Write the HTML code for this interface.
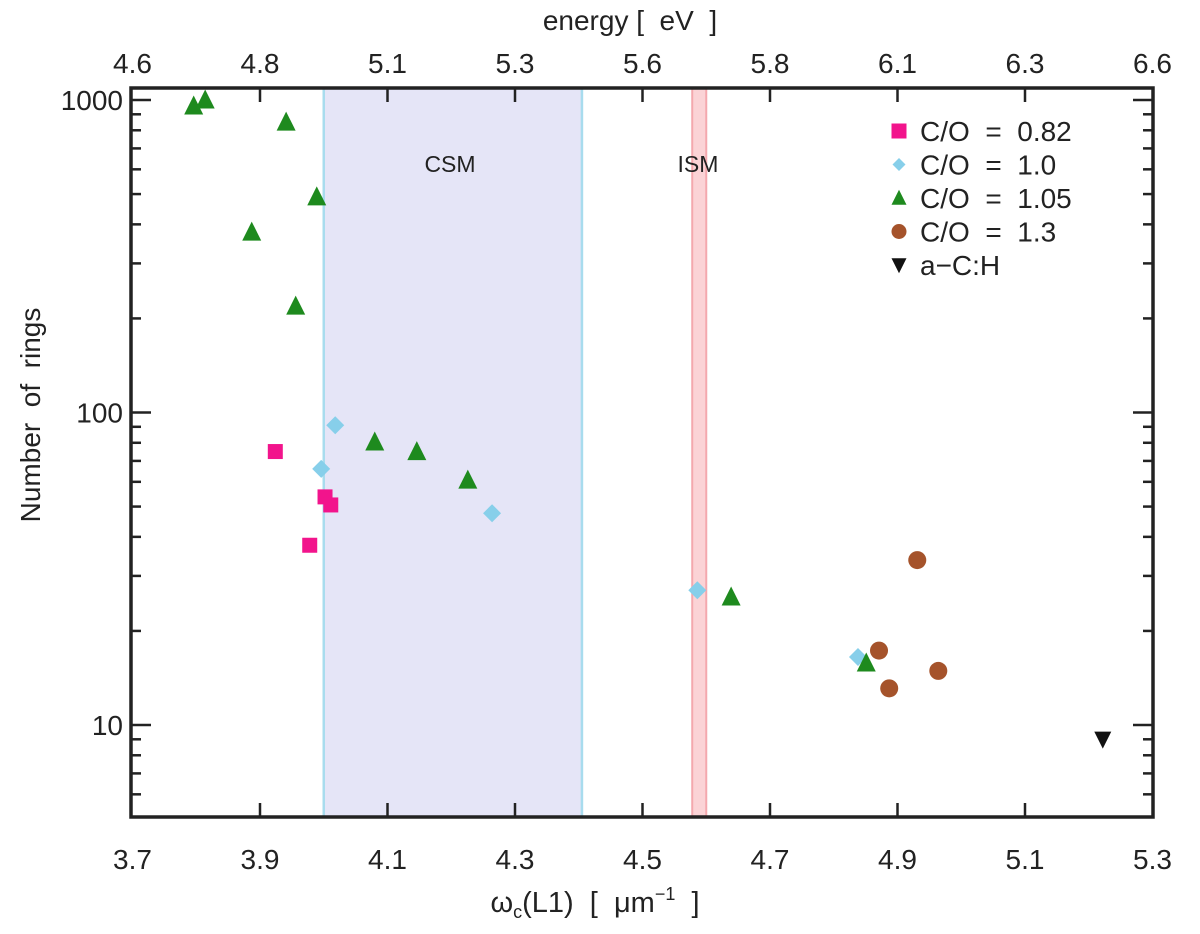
<!DOCTYPE html>
<html><head><meta charset="utf-8"><style>
html,body{margin:0;padding:0;background:#fff;}
svg text{font-family:"Liberation Sans","DejaVu Sans",sans-serif;fill:#222;white-space:pre;}
</style></head><body>
<svg id="chart" width="1200" height="929" viewBox="0 0 1200 929" xmlns="http://www.w3.org/2000/svg">
<g id="bands"></g>
<g id="axes"></g>
<g id="marks"></g>
<g id="legend"></g>
</svg>
<script>
const xTicks = [3.7, 3.9, 4.1, 4.3, 4.5, 4.7, 4.9, 5.1, 5.3];
const xTickLabels = ["3.7","3.9","4.1","4.3","4.5","4.7","4.9","5.1","5.3"];
const topTickLabels = ["4.6","4.8","5.1","5.3","5.6","5.8","6.1","6.3","6.6"];
const yTicks = [10, 100, 1000];
const yTickLabels = ["10","100","1000"];
const csmBand = [4.0, 4.405];
const ismBand = [4.578, 4.6];
const co082X = [3.924, 4.002, 4.011, 3.978];
const co082Y = [75, 53.7, 50.6, 37.6];
const co10X = [4.018, 3.996, 4.264, 4.586, 4.838];
const co10Y = [91, 66, 47.6, 27, 16.5];
const co105X = [3.796, 3.814, 3.941, 3.989, 3.887, 3.956, 4.080, 4.146, 4.226, 4.639, 4.851];
const co105Y = [957, 1000, 850, 490, 378, 219, 80.5, 75, 60.8, 25.7, 15.8];
const co13X = [4.871, 4.887, 4.931, 4.964];
const co13Y = [17.3, 13.1, 33.7, 14.9];
const achX = [5.222];
const achY = [9.0];

const L=131, R=1153, T=88, B=817;
const NS="http://www.w3.org/2000/svg";
function X(v){return 132.5+(v-3.7)*637.5;}
function Y(v){return 100+(3-Math.log10(v))*312.5;}
function mk(tag,attrs,parent){const e=document.createElementNS(NS,tag);for(const k in attrs)e.setAttribute(k,attrs[k]);parent.appendChild(e);return e;}
const bands=document.getElementById('bands'),axes=document.getElementById('axes'),marks=document.getElementById('marks'),leg=document.getElementById('legend');

let b=mk('rect',{x:X(csmBand[0]),y:T,width:X(csmBand[1])-X(csmBand[0]),height:B-T,fill:'#e5e5f7'},bands);


[csmBand[0],csmBand[1]].forEach(v=>{const l=mk('line',{x1:X(v),x2:X(v),y1:T,y2:B,stroke:'#a8dcee','stroke-width':2.5},bands);

});
b=mk('rect',{x:X(ismBand[0]),y:T,width:X(ismBand[1])-X(ismBand[0]),height:B-T,fill:'#fbd3d6',stroke:'#f4a8ae','stroke-width':2},bands);


let t=mk('text',{x:450,y:172,'font-size':23,'text-anchor':'middle'},bands);t.textContent='CSM';


t=mk('text',{x:698,y:172,'font-size':23,'text-anchor':'middle'},bands);t.textContent='ISM';



let f=mk('rect',{x:L,y:T,width:R-L,height:B-T,fill:'none',stroke:'#222','stroke-width':3.5},axes);


xTicks.forEach((v,i)=>{
  const x=X(v);
  if(i>0&&i<xTicks.length-1){mk('line',{x1:x,x2:x,y1:B,y2:B-14,stroke:'#222','stroke-width':2.5},axes);
  mk('line',{x1:x,x2:x,y1:T,y2:T+14,stroke:'#222','stroke-width':2.5},axes);}
  let tl=mk('text',{x:x,y:B+52,'font-size':28,'text-anchor':'middle'},axes);tl.textContent=xTickLabels[i];
  
  
  tl=mk('text',{x:x,y:T-15,'font-size':28,'text-anchor':'middle'},axes);tl.textContent=topTickLabels[i];
  
  
});
for(let d=0;d<4;d++){for(let m=1;m<10;m++){
  const v=m*Math.pow(10,d);const y=Y(v);if(y<T+2||y>B-2)continue;
  const len=(m===1)?20:10;
  mk('line',{x1:L,x2:L+len,y1:y,y2:y,stroke:'#222','stroke-width':2.5},axes);
  mk('line',{x1:R,x2:R-len,y1:y,y2:y,stroke:'#222','stroke-width':2.5},axes);
}}
yTicks.forEach((v,i)=>{let tl=mk('text',{x:L-8,y:Y(v)+10,'font-size':28,'text-anchor':'end'},axes);tl.textContent=yTickLabels[i];

});
t=mk('text',{x:595,y:912,'font-size':29,'text-anchor':'middle'},axes);
t.innerHTML='ω<tspan font-size="18" dy="6">c</tspan><tspan dy="-6">(L1)  [  μm</tspan><tspan font-size="18" dy="-12">−1</tspan><tspan dy="12">  ]</tspan>';


t=mk('text',{x:630,y:30,'font-size':28,'text-anchor':'middle'},axes);t.textContent='energy [  eV  ]';


t=mk('text',{x:0,y:0,'font-size':28,'text-anchor':'middle',transform:'translate(40,415) rotate(-90)'},axes);t.textContent='Number  of  rings';



function marker(type,x,y,s,parent){
  if(type==='sq')return mk('rect',{x:x-s/2,y:y-s/2,width:s,height:s,fill:'#f2148c'},parent);
  if(type==='di')return mk('polygon',{points:`${x},${y-s/2} ${x+s/2},${y} ${x},${y+s/2} ${x-s/2},${y}`,fill:'#87cfea'},parent);
  if(type==='tri')return mk('polygon',{points:`${x},${y-s*0.55} ${x+s/2},${y+s*0.45} ${x-s/2},${y+s*0.45}`,fill:'#1e8a1e'},parent);
  if(type==='ci')return mk('circle',{cx:x,cy:y,r:s/2,fill:'#a5532b'},parent);
  if(type==='dtri')return mk('polygon',{points:`${x-s/2},${y-s*0.45} ${x+s/2},${y-s*0.45} ${x},${y+s*0.55}`,fill:'#111'},parent);
}
const series=[['sq',co082X,co082Y,15,'co-0.82-point'],['di',co10X,co10Y,18,'co-1.0-point'],['tri',co105X,co105Y,19,'co-1.05-point'],['ci',co13X,co13Y,18,'co-1.3-point'],['dtri',achX,achY,17,'a-c-h-point']];
series.forEach(s=>{s[1].forEach((xv,i)=>{const e=marker(s[0],X(xv),Y(s[2][i]),s[3],marks);

});});

const legLabels=['C/O  =  0.82','C/O  =  1.0','C/O  =  1.05','C/O  =  1.3','a−C:H'];
const legTypes=['sq','di','tri','ci','dtri'];
legLabels.forEach((lab,i)=>{
  const y=131+i*33.5;
  const e=marker(legTypes[i],899,y,i===1?13:15,leg);
  
  
  const tx=mk('text',{x:920,y:y+10,'font-size':28},leg);tx.textContent=lab;
  
  
});
</script>
</body></html>
